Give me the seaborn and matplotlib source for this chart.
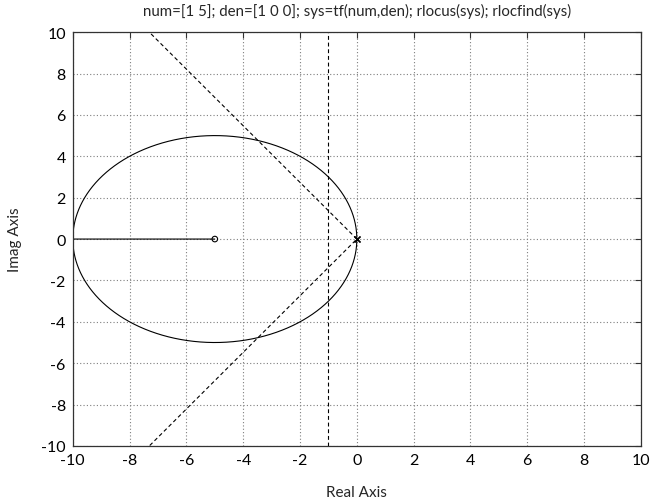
import numpy as np
import pandas as pd
import matplotlib
matplotlib.use("Agg")
import matplotlib.pyplot as plt
import seaborn as sns

# System data
num = [1, 5]
den = [1, 0, 0]
zeros_re = [-5.0]
zeros_im = [0.0]
poles_re = [0.0, 0.0]
poles_im = [0.0, 0.0]
zeta_line = 0.59          # damping-ratio line picked with rlocfind
sigma_line = -1.0         # vertical line at real part
ticks = [-10, -8, -6, -4, -2, 0, 2, 4, 6, 8, 10]
title = "num=[1 5]; den=[1 0 0]; sys=tf(num,den); rlocus(sys); rlocfind(sys)"

sns.set_theme(style="white")
plt.rcParams['font.family'] = ['Lato', 'DejaVu Sans']

# root locus computed from num/den over gain values
gains = np.concatenate([np.linspace(0, 20, 2001), np.geomspace(20.0001, 1e4, 800)])
rows = []
for k in gains:
    poly = np.polyadd(den, k * np.array(num, dtype=float))
    r = np.roots(poly)
    if np.all(np.abs(r.imag) > 1e-9):
        r = sorted(r, key=lambda z: -z.imag)
    else:
        r = sorted(r, key=lambda z: -z.real)
    for b, z in enumerate(r):
        rows.append({"branch": b, "re": z.real, "im": z.imag, "k": k})
loc = pd.DataFrame(rows)

fig = plt.figure(figsize=(6.5, 5.02), dpi=100)
ax = fig.add_axes([0.112, 0.1096, 0.874, 0.8244])

for b, g in loc.groupby("branch"):
    g = g[(g.re >= -10.5)]
    sns.lineplot(data=g, x="re", y="im", sort=False, estimator=None, ax=ax,
                 color="black", lw=0.8, legend=False)

# damping line and vertical line
t = np.array([0.0, 20.0])
ang = np.arccos(zeta_line)
dl = pd.DataFrame({"re": np.concatenate([-t * np.cos(ang), -t[::-1] * np.cos(ang)]),
                   "im": np.concatenate([t * np.sin(ang), -t[::-1] * np.sin(ang)])})
sns.lineplot(data=dl, x="re", y="im", sort=False, estimator=None, ax=ax,
             color="black", lw=0.8, linestyle=(0, (3.5, 2.5)), legend=False)
vl = pd.DataFrame({"re": [sigma_line, sigma_line], "im": [-10, 10]})
sns.lineplot(data=vl, x="re", y="im", sort=False, estimator=None, ax=ax,
             color="black", lw=0.8, linestyle=(0, (3.5, 2.5)), legend=False)

sns.scatterplot(x=zeros_re, y=zeros_im, ax=ax, marker="o", s=16,
                facecolor="none", edgecolor="black", linewidth=0.8, zorder=5)
sns.scatterplot(x=poles_re, y=poles_im, ax=ax, marker="x", s=18,
                color="black", linewidth=1.0, zorder=5)

ax.set_xlim(-10, 10)
ax.set_ylim(-10, 10)
ax.set_xticks(ticks)
ax.set_yticks(ticks)
ax.set_xticklabels([str(v) for v in ticks])
ax.set_yticklabels([str(v) for v in ticks])
ax.grid(True, color="#7f7f7f", linestyle=(0, (1, 2)), linewidth=0.8)
ax.tick_params(direction="in", length=4, width=0.8, colors="#333333",
               labelsize=11.5, top=True, right=True, labelcolor="black", pad=5)
for sp in ax.spines.values():
    sp.set_color("#333333")
    sp.set_linewidth(0.9)
ax.set_xlabel("Real Axis", fontsize=11, labelpad=13)
ax.set_ylabel("Imag Axis", fontsize=11, labelpad=14)
ax.set_title(title, fontsize=10.8, pad=12)

fig.savefig("out.png", dpi=100)
